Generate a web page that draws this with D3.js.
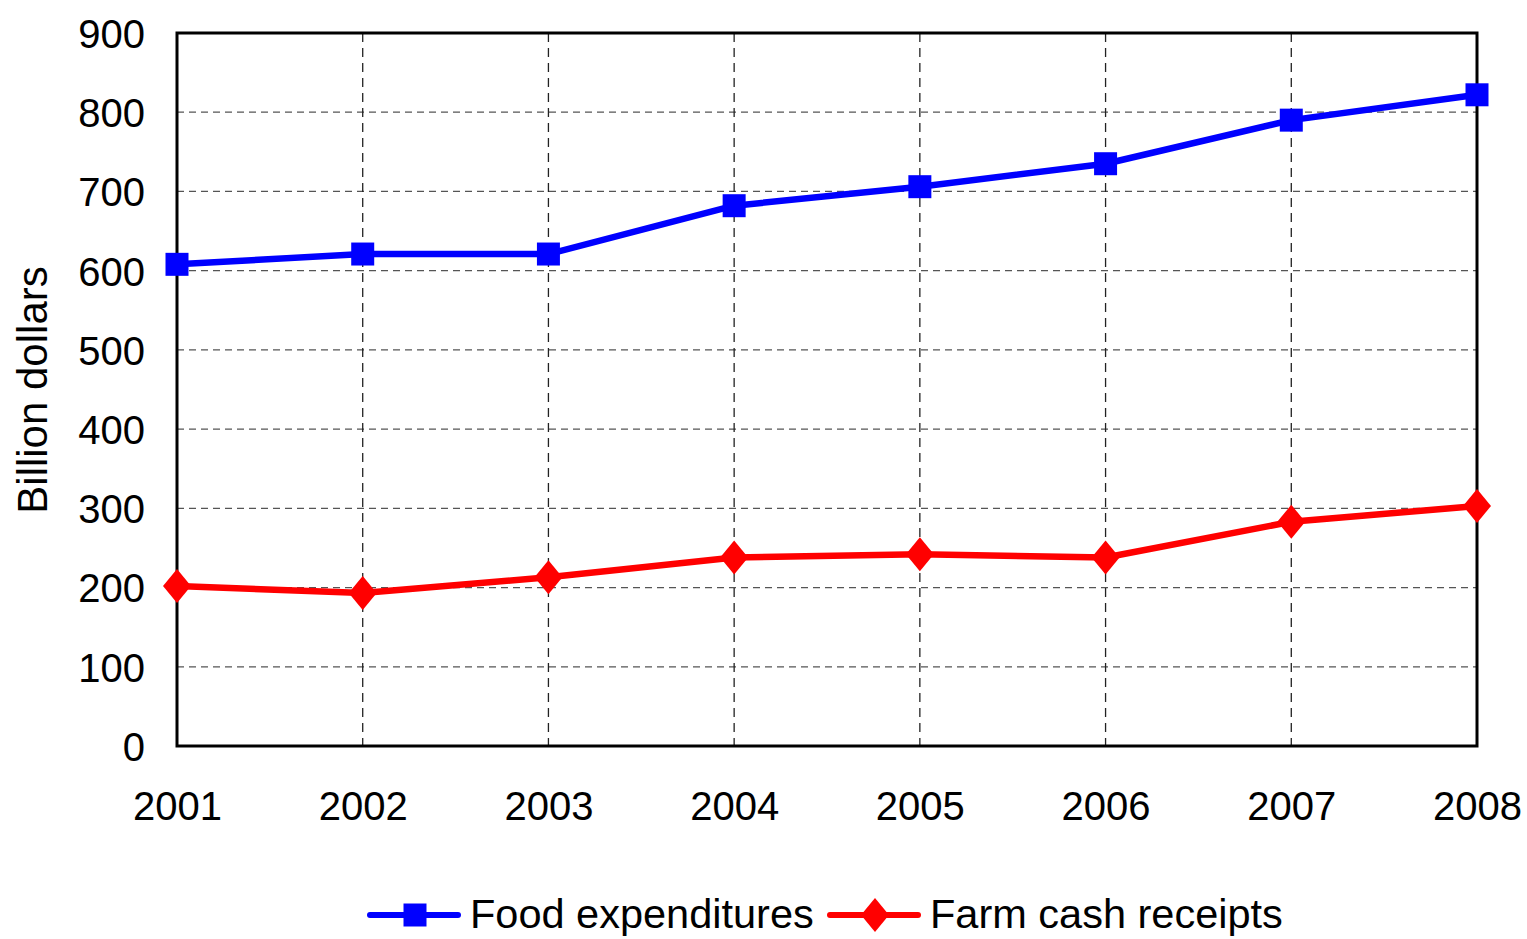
<!DOCTYPE html>
<html>
<head>
<meta charset="utf-8">
<script src="https://cdn.jsdelivr.net/npm/d3@7"></script>
<style>
  body { margin: 0; background: #fff; }
  text { font-family: "Liberation Sans", Arial, sans-serif; fill: #000; }
</style>
</head>
<body>
<svg id="chart" width="1527" height="939"></svg>
<script>
// Data
const years = [2001, 2002, 2003, 2004, 2005, 2006, 2007, 2008];
const foodExpenditures = [608, 621, 621, 682, 706, 735, 790, 822];
const farmCashReceipts = [202, 193, 213, 238, 242, 238, 283, 303];
const yTicks = [0, 100, 200, 300, 400, 500, 600, 700, 800, 900];
const seriesNames = ["Food expenditures", "Farm cash receipts"];

const margin = { top: 33, right: 50, bottom: 193, left: 177 },
  width = 1527 - margin.left - margin.right,
  height = 939 - margin.top - margin.bottom;

const svg = d3.select("#chart");
const chart = svg
  .append("g")
  .attr("transform", "translate(" + margin.left + "," + margin.top + ")");

const x = d3.scalePoint().domain(years).range([0, width]).padding(0);
const y = d3.scaleLinear().domain([0, 900]).range([height, 0]);

// grid lines
chart
  .append("g")
  .selectAll("line")
  .data(yTicks.slice(1, -1))
  .join("line")
  .attr("x1", 0)
  .attr("x2", width)
  .attr("y1", (d) => y(d))
  .attr("y2", (d) => y(d))
  .attr("stroke", "#555")
  .attr("stroke-width", 1.3)
  .attr("stroke-dasharray", "7,5");

chart
  .append("g")
  .selectAll("line")
  .data(years.slice(1, -1))
  .join("line")
  .attr("x1", (d) => x(d))
  .attr("x2", (d) => x(d))
  .attr("y1", 0)
  .attr("y2", height)
  .attr("stroke", "#222")
  .attr("stroke-width", 1.3)
  .attr("stroke-dasharray", "9,6");

// frame
chart
  .append("rect")
  .attr("x", 0)
  .attr("y", 0)
  .attr("width", width)
  .attr("height", height)
  .attr("fill", "none")
  .attr("stroke", "#000")
  .attr("stroke-width", 3);

// axes (labels only, the frame draws the lines)
const yAxis = d3.axisLeft(y).tickValues(yTicks).tickSize(0).tickPadding(32);
chart
  .append("g")
  .call(yAxis)
  .call((g) => g.select(".domain").remove())
  .selectAll("text")
  .style("font-size", "40px")
  .attr("dy", "0.36em");

const xAxis = d3.axisBottom(x).tickSize(0).tickPadding(46).tickFormat(d3.format("d"));
chart
  .append("g")
  .attr("transform", `translate(0, ${height})`)
  .call(xAxis)
  .call((g) => g.select(".domain").remove())
  .selectAll("text")
  .style("font-size", "40px");

svg
  .append("text")
  .attr("transform", "translate(47,390) rotate(-90)")
  .attr("text-anchor", "middle")
  .style("font-size", "42px")
  .text("Billion dollars");

// series
const series = [
  { name: seriesNames[0], values: foodExpenditures, color: "#0000ff", shape: "square" },
  { name: seriesNames[1], values: farmCashReceipts, color: "#ff0000", shape: "diamond" },
];

const line = d3
  .line()
  .x((d, i) => x(years[i]))
  .y((d) => y(d));

function markerPath(shape) {
  if (shape === "square") return "M-11.5,-11.5H11.5V11.5H-11.5Z";
  return "M0,-17L14,0L0,17L-14,0Z";
}

series.forEach(function (s) {
  chart
    .append("path")
    .datum(s.values)
    .attr("d", line)
    .attr("fill", "none")
    .attr("stroke", s.color)
    .attr("stroke-width", 6.5)
    .attr("stroke-linejoin", "round");

  chart
    .append("g")
    .selectAll("path")
    .data(s.values)
    .join("path")
    .attr("transform", (d, i) => `translate(${x(years[i])},${y(d)})`)
    .attr("d", markerPath(s.shape))
    .attr("fill", s.color);
});

// legend
const legendX = [368, 828];
const legendY = 915;
const legend = svg
  .append("g")
  .selectAll("g")
  .data(series)
  .join("g")
  .attr("transform", (d, i) => `translate(${legendX[i]},${legendY})`);

legend
  .append("line")
  .attr("x1", 2)
  .attr("x2", 90)
  .attr("stroke", (d) => d.color)
  .attr("stroke-width", 6)
  .attr("stroke-linecap", "round");

legend
  .append("path")
  .attr("transform", "translate(47,0)")
  .attr("d", (d) => markerPath(d.shape))
  .attr("fill", (d) => d.color);

legend
  .append("text")
  .attr("x", 102)
  .attr("y", 13)
  .style("font-size", "41.5px")
  .text((d) => d.name);
</script>
</body>
</html>
